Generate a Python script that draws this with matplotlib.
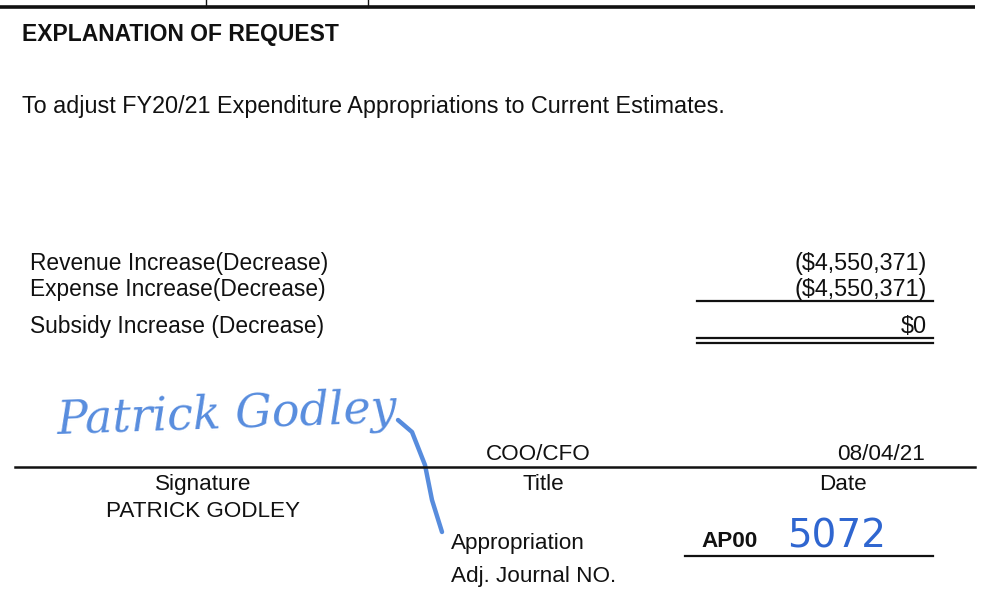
import matplotlib
matplotlib.use("Agg")
from matplotlib import pyplot as plt

plt.rcParams['font.family'] = ['Liberation Sans', 'DejaVu Sans']

heading = "EXPLANATION OF REQUEST"
explanation = "To adjust FY20/21 Expenditure Appropriations to Current Estimates."
line_items = ["Revenue Increase(Decrease)", "Expense Increase(Decrease)", "Subsidy Increase (Decrease)"]
amounts = ["($4,550,371)", "($4,550,371)", "$0"]
signer = "PATRICK GODLEY"
signer_title = "COO/CFO"
sign_date = "08/04/21"
field_labels = ["Signature", "Title", "Date"]
journal_prefix = "AP00"
journal_number = "5072"

W, H = 989, 593
fig = plt.figure(figsize=(W / 100, H / 100), dpi=100)
ax = fig.add_axes([0, 0, 1, 1])
ax.set_xlim(0, W)
ax.set_ylim(H, 0)
ax.axis('off')

ink = '#111111'
pen = '#3a78d8'
fs = 16.8
dy = 1.5  # matplotlib centres on the full text box, nudge down a bit

# top rule with the stubs of the form cells above it
ax.plot([0, 975], [7, 7], color=ink, lw=2.6, solid_capstyle='butt')
for xv in (206, 368):
    ax.plot([xv, xv], [0, 7], color=ink, lw=1.0)

ax.text(22, 33 + dy, heading, fontsize=16.5, fontweight='bold', color=ink, va='center')
ax.text(22, 105 + dy, explanation, fontsize=fs, color=ink, va='center')

rows_y = [262, 288, 325]
for lab, amt, yv in zip(line_items, amounts, rows_y):
    ax.text(30, yv + dy, lab, fontsize=16.4, color=ink, va='center')
    ax.text(927, yv + dy, amt, fontsize=fs, color=ink, va='center', ha='right')

# total rules
ax.plot([697, 933], [301, 301], color=ink, lw=1.6)
ax.plot([697, 933], [338, 338], color=ink, lw=1.6)
ax.plot([697, 933], [343, 343], color=ink, lw=1.6)

# signature (pen)
ax.text(56, 415, "Patrick Godley", fontsize=33, color=pen, style='italic',
        family='DejaVu Serif', va='center', rotation=2, alpha=0.85)
ax.plot([398, 412, 425, 432, 442], [420, 432, 465, 500, 532], color=pen, lw=3.2,
        alpha=0.85, solid_capstyle='round')

# signature line and captions
ax.plot([15, 975], [467, 467], color=ink, lw=1.8)
ax.text(538, 453 + dy, signer_title, fontsize=16.2, color=ink, va='center', ha='center')
ax.text(925, 453 + dy, sign_date, fontsize=16.2, color=ink, va='center', ha='right')
for lab, xv in zip(field_labels, [203, 543, 843]):
    ax.text(xv, 483 + dy, lab, fontsize=16.2, color=ink, va='center', ha='center')
ax.text(203, 510 + dy, signer, fontsize=16.2, color=ink, va='center', ha='center')

ax.text(451, 542 + dy, "Appropriation", fontsize=16.2, color=ink, va='center')
ax.text(451, 575 + dy, "Adj. Journal NO.", fontsize=16.2, color=ink, va='center')
ax.text(701, 540 + dy, journal_prefix, fontsize=16.2, fontweight='bold', color=ink, va='center')
ax.text(787, 537, journal_number, fontsize=28, color='#2f66d0', va='center',
        family='DejaVu Sans')
ax.plot([685, 933], [556, 556], color=ink, lw=1.6)

fig.savefig("out.png", dpi=100)
